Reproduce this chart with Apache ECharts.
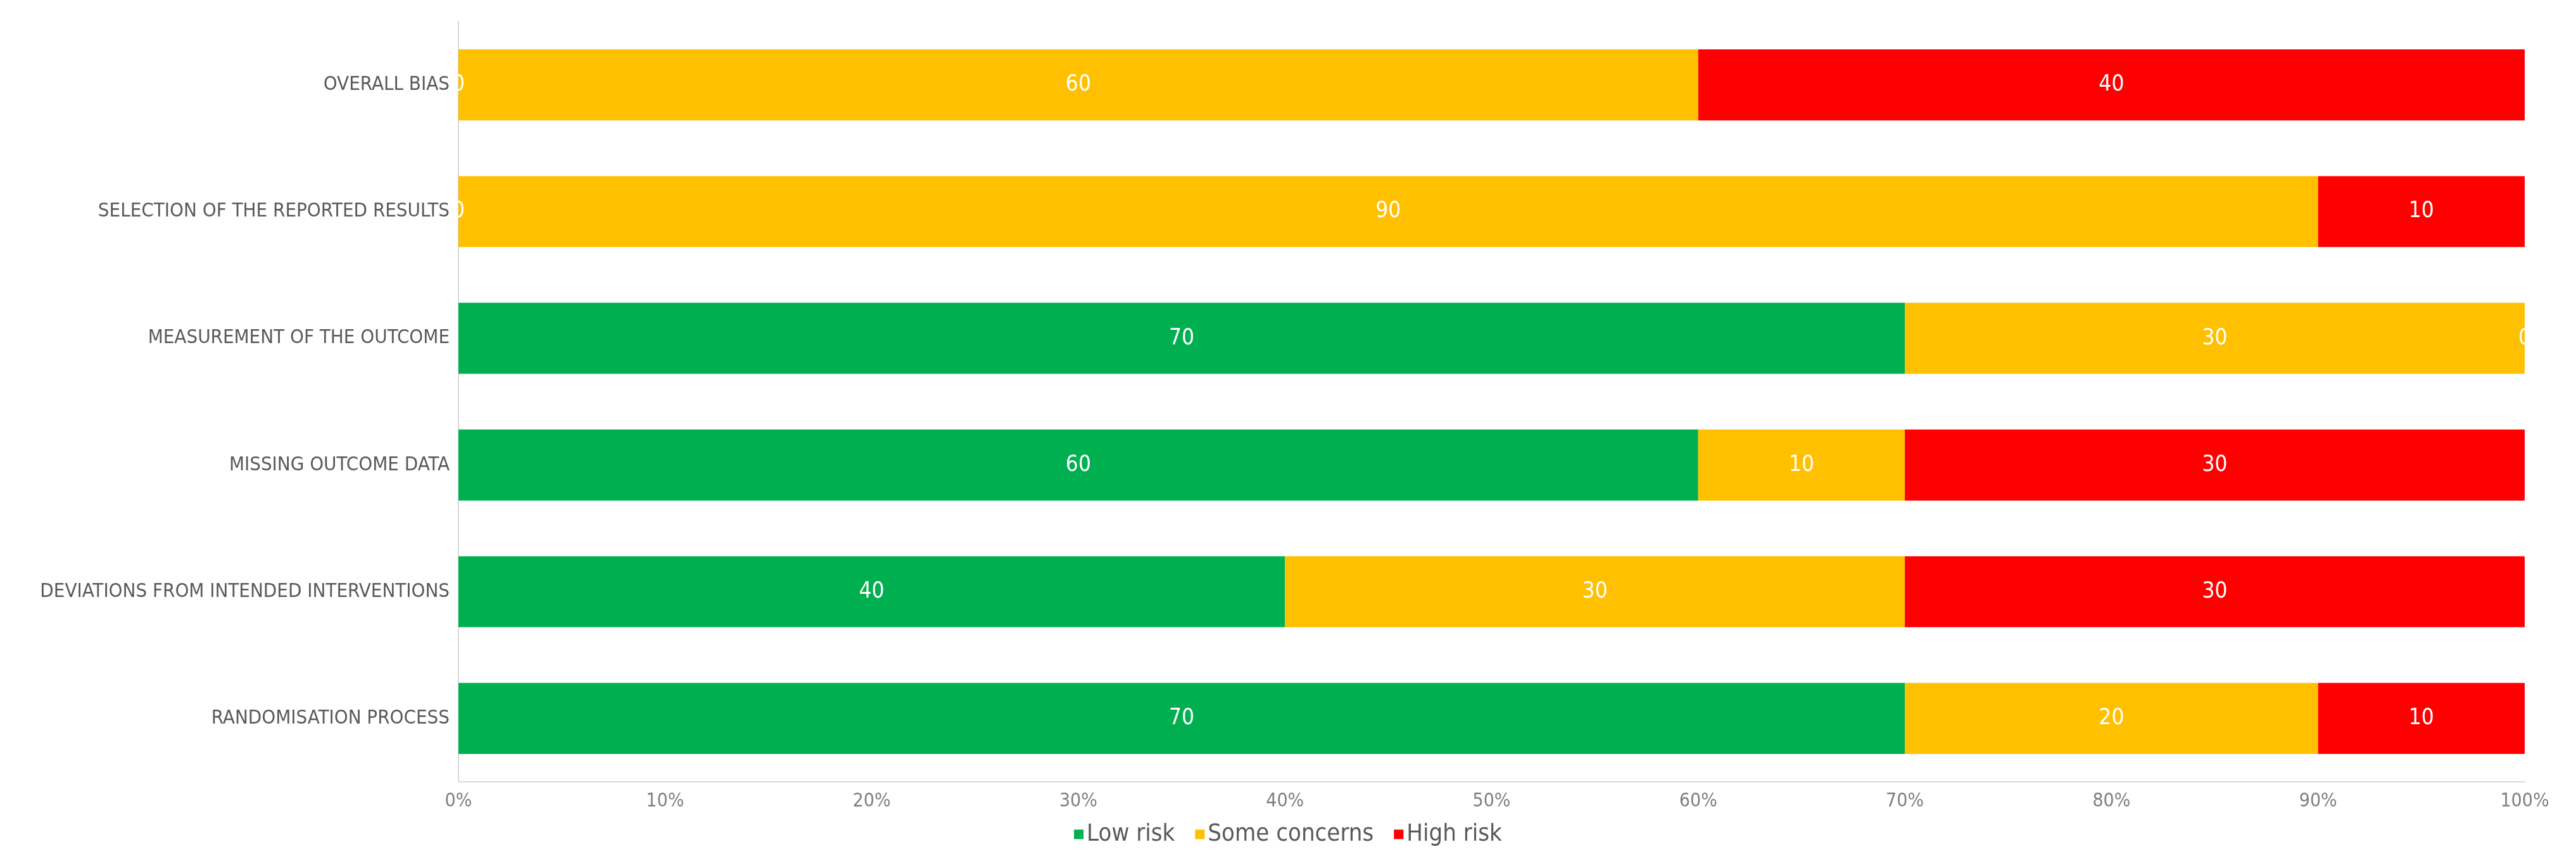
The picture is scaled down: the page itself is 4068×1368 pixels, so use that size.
<!DOCTYPE html>
<html>
<head>
    <meta charset="utf-8">
    <title>Risk of bias</title>
    <script src="https://cdn.jsdelivr.net/npm/echarts@6/dist/echarts.min.js"></script>
    <style>
        html, body { margin: 0; padding: 0; background: #fff; }
    </style>
</head>
<body>
    <div id="main" style="width: 4068px;height:1368px;"></div>
    <script type="text/javascript">
        // domains, listed bottom to top as drawn on the category axis
        var domains = [
            'RANDOMISATION PROCESS',
            'DEVIATIONS FROM INTENDED INTERVENTIONS',
            'MISSING OUTCOME DATA',
            'MEASUREMENT OF THE OUTCOME',
            'SELECTION OF THE REPORTED RESULTS',
            'OVERALL BIAS'
        ];
        var lowRisk = [70, 40, 60, 70, 0, 0];
        var someConcerns = [20, 30, 10, 30, 90, 60];
        var highRisk = [10, 30, 30, 0, 10, 40];
        var xTicks = [0, 100, 10]; // min, max, step

        var fontName = '"Liberation Sans Narrow", "DejaVu Sans Condensed", "Open Sans", sans-serif';
        var myChart = echarts.init(document.getElementById('main'));

        function barSeries(name, data, color) {
            return {
                name: name,
                type: 'bar',
                stack: 'risk',
                data: data,
                barCategoryGap: '44%',
                itemStyle: { color: color },
                label: {
                    show: true,
                    position: 'inside',
                    color: '#fff',
                    fontFamily: fontName,
                    fontSize: 35
                }
            };
        }

        var option = {
            textStyle: { fontFamily: fontName },
            grid: {
                left: 724,
                right: 81,
                top: 34,
                bottom: 133
            },
            legend: {
                bottom: 26,
                left: 'center',
                icon: 'rect',
                itemWidth: 15,
                itemHeight: 15,
                itemGap: 32,
                textStyle: {
                    color: '#595959',
                    fontSize: 38,
                    fontFamily: fontName
                },
                data: ['Low risk', 'Some concerns', 'High risk']
            },
            xAxis: {
                type: 'value',
                min: xTicks[0],
                max: xTicks[1],
                interval: xTicks[2],
                axisLine: { show: true, lineStyle: { color: '#d9d9d9', width: 2 } },
                axisTick: { show: false },
                splitLine: { show: false },
                axisLabel: {
                    formatter: '{value}%',
                    color: '#7f7f7f',
                    fontSize: 30,
                    margin: 16
                }
            },
            yAxis: {
                type: 'category',
                data: domains,
                axisLine: { show: true, lineStyle: { color: '#d9d9d9', width: 2 } },
                axisTick: { show: false },
                axisLabel: {
                    color: '#595959',
                    fontSize: 31,
                    margin: 14
                }
            },
            series: [
                barSeries('Low risk', lowRisk, '#00B050'),
                barSeries('Some concerns', someConcerns, '#FFC000'),
                barSeries('High risk', highRisk, '#FF0000')
            ]
        };

        myChart.setOption(option);
    </script>
</body>
</html>
